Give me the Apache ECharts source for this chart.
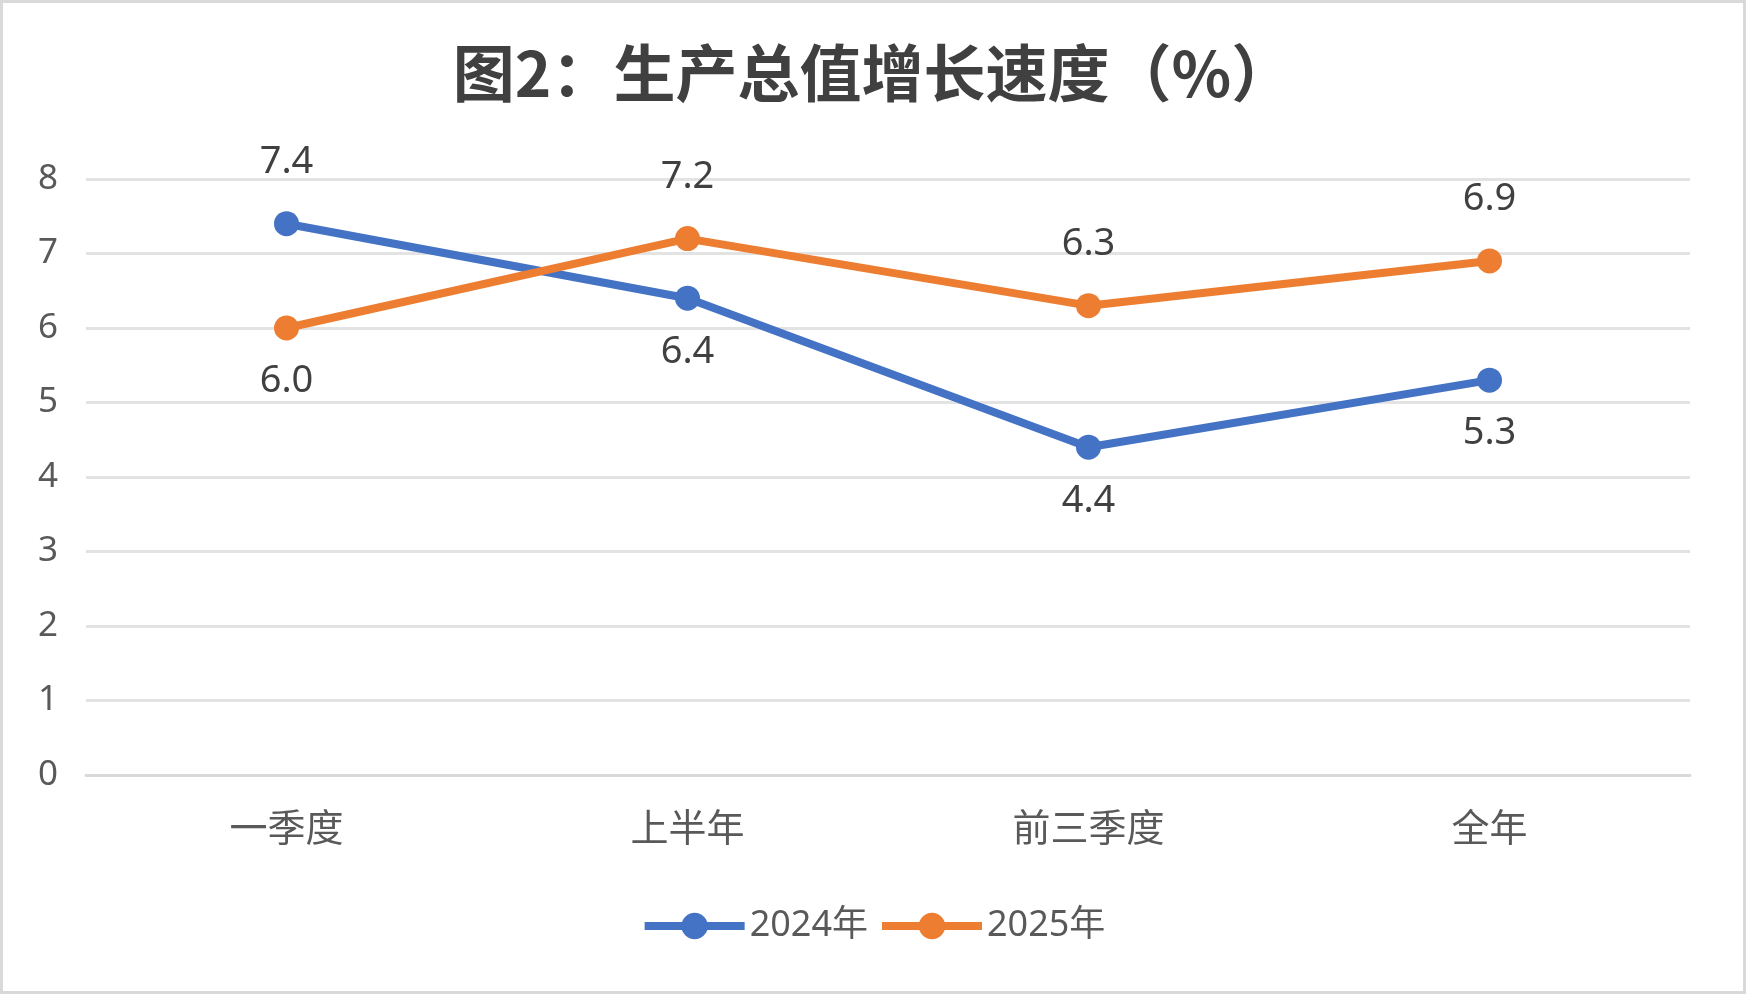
<!DOCTYPE html>
<html lang="zh">
<head>
  <meta charset="UTF-8">
  <title>图2：生产总值增长速度（%）</title>
  <style>
    html, body { margin: 0; padding: 0; background: #fff; }
    /* 外框 */
    #chart {
      width: 1746px;
      height: 994px;
      box-sizing: border-box;
      border: 3px solid #d9d9d9;
    }
  </style>
  <script src="https://cdn.jsdelivr.net/npm/echarts@6/dist/echarts.min.js"></script>
</head>
<body>
  <div id="chart"></div>
  <script>
    const categories = ['一季度', '上半年', '前三季度', '全年'];
    const seriesNames = ['2024年', '2025年'];
    const values2024 = [7.4, 6.4, 4.4, 5.3];
    const values2025 = [6.0, 7.2, 6.3, 6.9];
    // 标签位置：上方或下方
    const labelPos2024 = ['top', 'bottom', 'bottom', 'bottom'];
    const labelPos2025 = ['bottom', 'top', 'top', 'top'];

    const font = '"Noto Sans", "Noto Sans CJK SC", sans-serif';

    function buildData(values, positions) {
      return values.map((v, i) => ({
        value: v,
        label: {
          position: positions[i],
          distance: positions[i] === 'top' ? 30 : 22
        }
      }));
    }

    const myChart = echarts.init(document.getElementById('chart'));

    const option = {
      animation: false,
      title: {
        text: '图2：生产总值增长速度（%）',
        left: 'center',
        top: 34,
        textStyle: {
          fontFamily: '"Noto Sans CJK SC", sans-serif',
          fontSize: 62,
          fontWeight: 'bold',
          color: '#404040'
        }
      },
      legend: {
        data: seriesNames,
        bottom: 42,
        left: 'center',
        itemWidth: 100,
        itemHeight: 33,
        itemGap: 10,
        lineStyle: { width: 8 },
        textStyle: {
          fontFamily: font,
          fontSize: 36,
          color: '#595959'
        }
      },
      grid: {
        left: 83,
        right: 53,
        top: 176,
        bottom: 216,
        containLabel: false
      },
      xAxis: {
        type: 'category',
        data: categories,
        boundaryGap: true,
        axisLine: { lineStyle: { color: '#d9d9d9', width: 3 } },
        axisTick: { show: false },
        axisLabel: {
          fontFamily: font,
          fontSize: 38,
          color: '#595959',
          margin: 36
        }
      },
      yAxis: {
        type: 'value',
        min: 0,
        max: 8,
        interval: 1,
        axisLine: { show: false },
        axisTick: { show: false },
        splitLine: { lineStyle: { color: '#e3e3e3', width: 3 } },
        axisLabel: {
          fontFamily: font,
          fontSize: 35,
          color: '#595959',
          margin: 28
        }
      },
      series: [
        {
          name: seriesNames[0],
          type: 'line',
          data: buildData(values2024, labelPos2024),
          symbol: 'circle',
          symbolSize: 25,
          lineStyle: { width: 8, color: '#4472C4' },
          itemStyle: { color: '#4472C4' },
          label: {
            show: true,
            fontFamily: font,
            fontSize: 38,
            color: '#404040',
            formatter: p => p.value.toFixed(1)
          }
        },
        {
          name: seriesNames[1],
          type: 'line',
          data: buildData(values2025, labelPos2025),
          symbol: 'circle',
          symbolSize: 25,
          lineStyle: { width: 8, color: '#ED7D31' },
          itemStyle: { color: '#ED7D31' },
          label: {
            show: true,
            fontFamily: font,
            fontSize: 38,
            color: '#404040',
            formatter: p => p.value.toFixed(1)
          }
        }
      ]
    };

    myChart.setOption(option);
  </script>
</body>
</html>
